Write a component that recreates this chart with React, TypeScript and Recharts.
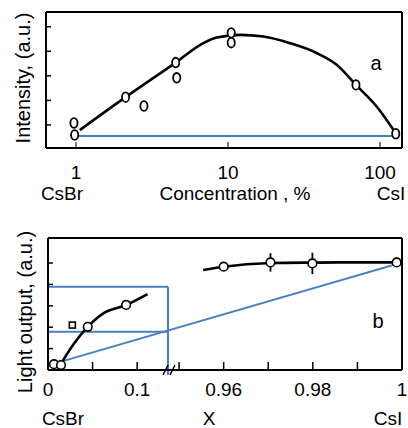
import React from "react";
import { ComposedChart, Line, Scatter, XAxis, YAxis, ErrorBar, ReferenceLine } from "recharts";

const FONT = "'Liberation Sans', Arial, sans-serif";
const BLUE = "#4a7ebf";

// panel a: intensity vs concentration (log x)
const A_PT_X = [0.97, 0.98, 2.12, 2.8, 4.53, 4.6, 10.5, 10.5, 69.5, 127];
const A_PT_Y = [1.08, 0.59, 2.13, 1.77, 3.54, 2.92, 4.75, 4.35, 2.63, 0.64];
const A_FIT_X = [1.06, 2.12, 4.53, 6.88, 8.43, 12, 17.1, 25.6, 38.3, 51.9, 69.5, 95.1, 127];
const A_FIT_Y = [0.79, 2.13, 3.54, 4.33, 4.56, 4.67, 4.6, 4.33, 3.93, 3.45, 2.63, 1.75, 0.66];
const A_BASE_X = [0.98, 127];
const A_BASE_Y = [0.55, 0.55];
const A_XTICKS = [1, 10, 100];
const A_YTICKS = [1, 2, 3, 4, 5];

// panel b: light output vs X (broken x axis)
const B_PT_X = [0.0067, 0.0146, 0.0446, 0.0876, 0.96, 0.9705, 0.9799, 0.9988];
const B_PT_Y = [0.27, 0.23, 2.02, 3.04, 4.83, 5.03, 4.98, 5.03];
const B_PT_ERR = [0, 0, 0, 0, 0, 0.43, 0.5, 0];
const B_SQ_X = [0.0273];
const B_SQ_Y = [2.1];
const B_FIT1_X = [0.0116, 0.028, 0.0446, 0.062, 0.0876, 0.1116];
const B_FIT1_Y = [0.08, 1.17, 2.02, 2.65, 3.04, 3.55];
const B_FIT2_X = [0.9554, 0.96, 0.9705, 0.98, 0.99, 1.0];
const B_FIT2_Y = [4.67, 4.83, 5.0, 5.02, 5.03, 5.03];
const B_DIAG_X = [0.0146, 1.0];
const B_DIAG_Y = [0.39, 5.03];
const B_BOX_X = [0, 0.1346];
const B_BOX_TOP = [3.89, 3.89];
const B_BOX_MID = [1.79, 1.79];
const B_XTICKS = [0, 0.05, 0.1, 0.95, 0.96, 0.97, 0.98, 0.99, 1];
const B_XLABELS = ["0", "", "0.1", "", "0.96", "", "0.98", "", "1"];
const B_YTICKS = [1, 2, 3, 4, 5];

// axis break: left part kept as is, right part stretched
const BRK_L = 0.137;
const BRK_R = 0.948;
const STRETCH = 5;
const brk = (x: number) => (x <= BRK_L ? x : BRK_L + (x - BRK_R) * STRETCH);

const rows = (xs: number[], ys: number[], f = (v: number) => v) =>
  xs.map((x, i) => ({ x: f(x), y: ys[i] }));

const Oval = (p: any) => (
  <ellipse cx={p.cx} cy={p.cy} rx={3.6} ry={4.8} fill="#fff" stroke="#000" strokeWidth={1.8} />
);
const Ring = (p: any) => (
  <circle cx={p.cx} cy={p.cy} r={4.3} fill="#fff" stroke="#000" strokeWidth={1.6} />
);
const Box = (p: any) => (
  <rect x={p.cx - 3} y={p.cy - 3} width={6} height={6} fill="#fff" stroke="#000" strokeWidth={1.6} />
);

const frame = { stroke: "#000", strokeWidth: 2 };
const noLabel = () => "";

function PanelA() {
  return (
    <ComposedChart width={408} height={428} margin={{ top: 11, right: 5, bottom: 279, left: 45 }}>
      <XAxis
        dataKey="x"
        type="number"
        scale="log"
        domain={[0.635, 139.6]}
        allowDataOverflow
        ticks={A_XTICKS}
        interval={0}
        height={1}
        tickSize={-6}
        tickMargin={24}
        axisLine={frame}
        tickLine={{ stroke: "#000", strokeWidth: 1 }}
        tick={{ fill: "#000", fontSize: 19, fontFamily: FONT }}
      />
      <XAxis xAxisId="top" orientation="top" type="number" domain={[0, 1]} height={1} tickFormatter={noLabel} tickLine={false} axisLine={frame} />
      <YAxis
        dataKey="y"
        type="number"
        domain={[0.06, 5.6]}
        allowDataOverflow
        ticks={A_YTICKS}
        interval={0}
        width={1}
        tickSize={-5}
        tickFormatter={noLabel}
        axisLine={frame}
        tickLine={{ stroke: "#000", strokeWidth: 1.5 }}
      />
      <YAxis yAxisId="r" orientation="right" type="number" domain={[0, 1]} width={1} tickFormatter={noLabel} tickLine={false} axisLine={frame} />
      <Line data={rows(A_BASE_X, A_BASE_Y)} dataKey="y" type="linear" stroke={BLUE} strokeWidth={2} dot={false} isAnimationActive={false} />
      <Line data={rows(A_FIT_X, A_FIT_Y)} dataKey="y" type="monotone" stroke="#000" strokeWidth={2.6} dot={false} isAnimationActive={false} />
      <Scatter data={rows(A_PT_X, A_PT_Y)} dataKey="y" shape={Oval} isAnimationActive={false} />
    </ComposedChart>
  );
}

function PanelB() {
  const pts = B_PT_X.map((x, i) => ({ x: brk(x), y: B_PT_Y[i], err: B_PT_ERR[i] }));
  return (
    <ComposedChart width={408} height={428} margin={{ top: 237, right: 5, bottom: 57, left: 47 }}>
      <XAxis
        dataKey="x"
        type="number"
        domain={[0, brk(1)]}
        allowDataOverflow
        ticks={B_XTICKS.map(brk)}
        interval={0}
        height={1}
        tickSize={-8}
        tickMargin={21}
        tickFormatter={(_v: number, i: number) => B_XLABELS[i]}
        axisLine={frame}
        tickLine={{ stroke: "#000", strokeWidth: 1.5 }}
        tick={{ fill: "#000", fontSize: 19, fontFamily: FONT }}
      />
      <XAxis xAxisId="top" orientation="top" type="number" domain={[0, 1]} height={1} tickFormatter={noLabel} tickLine={false} axisLine={frame} />
      <YAxis
        dataKey="y"
        type="number"
        domain={[0, 6.17]}
        allowDataOverflow
        ticks={B_YTICKS}
        interval={0}
        width={1}
        tickSize={-5}
        tickFormatter={noLabel}
        axisLine={frame}
        tickLine={{ stroke: "#000", strokeWidth: 1.5 }}
      />
      <YAxis yAxisId="r" orientation="right" type="number" domain={[0, 1]} width={1} tickFormatter={noLabel} tickLine={false} axisLine={frame} />
      <Line data={rows(B_BOX_X, B_BOX_TOP)} dataKey="y" type="linear" stroke={BLUE} strokeWidth={2} dot={false} isAnimationActive={false} />
      <Line data={rows(B_BOX_X, B_BOX_MID)} dataKey="y" type="linear" stroke={BLUE} strokeWidth={2} dot={false} isAnimationActive={false} />
      <Line data={rows(B_DIAG_X, B_DIAG_Y, brk)} dataKey="y" type="linear" stroke={BLUE} strokeWidth={2} dot={false} isAnimationActive={false} />
      <ReferenceLine
        segment={[{ x: B_BOX_X[1], y: B_BOX_TOP[0] }, { x: B_BOX_X[1], y: -0.23 }]}
        stroke={BLUE}
        strokeWidth={2}
        ifOverflow="visible"
      />
      <ReferenceLine segment={[{ x: 0.129, y: -0.23 }, { x: 0.1346, y: 0.23 }]} stroke="#000" strokeWidth={1.5} ifOverflow="visible" />
      <ReferenceLine segment={[{ x: 0.1368, y: -0.23 }, { x: 0.1424, y: 0.23 }]} stroke="#000" strokeWidth={1.5} ifOverflow="visible" />
      <Line data={rows(B_FIT1_X, B_FIT1_Y, brk)} dataKey="y" type="monotone" stroke="#000" strokeWidth={2.6} dot={false} isAnimationActive={false} />
      <Line data={rows(B_FIT2_X, B_FIT2_Y, brk)} dataKey="y" type="monotone" stroke="#000" strokeWidth={2.6} dot={false} isAnimationActive={false} />
      <Scatter data={rows(B_SQ_X, B_SQ_Y, brk)} dataKey="y" shape={Box} isAnimationActive={false} />
      <Scatter data={pts} dataKey="y" shape={Ring} isAnimationActive={false}>
        <ErrorBar dataKey="err" direction="y" width={0} stroke="#000" strokeWidth={1.8} />
      </Scatter>
    </ComposedChart>
  );
}

function Labels() {
  const t = { fontSize: 19, fontFamily: FONT, fill: "#000" } as const;
  return (
    <svg width={408} height={428} style={{ position: "absolute", left: 0, top: 0, pointerEvents: "none" }}>
      <text {...t} x={62} y={200} textAnchor="middle">CsBr</text>
      <text {...t} x={235} y={200} textAnchor="middle">Concentration , %</text>
      <text {...t} x={391} y={200} textAnchor="middle">CsI</text>
      <text {...t} fontSize={20} transform="translate(30,78) rotate(-90)" textAnchor="middle">Intensity, (a.u.)</text>
      <text {...t} fontSize={20} x={376} y={70} textAnchor="middle">a</text>
      <text {...t} x={63} y={425} textAnchor="middle">CsBr</text>
      <text {...t} x={209} y={425} textAnchor="middle">X</text>
      <text {...t} x={388} y={425} textAnchor="middle">CsI</text>
      <text {...t} fontSize={20} transform="translate(32,312) rotate(-90)" textAnchor="middle">Light output, (a.u.)</text>
      <text {...t} fontSize={20} x={378} y={328} textAnchor="middle">b</text>
    </svg>
  );
}

export default function App() {
  return (
    <div style={{ position: "absolute", left: 0, top: 0, width: 408, height: 428, background: "#fff", fontFamily: FONT }}>
      <div style={{ position: "absolute", left: 0, top: 0 }}>
        <PanelA />
      </div>
      <div style={{ position: "absolute", left: 0, top: 0 }}>
        <PanelB />
      </div>
      <Labels />
    </div>
  );
}
